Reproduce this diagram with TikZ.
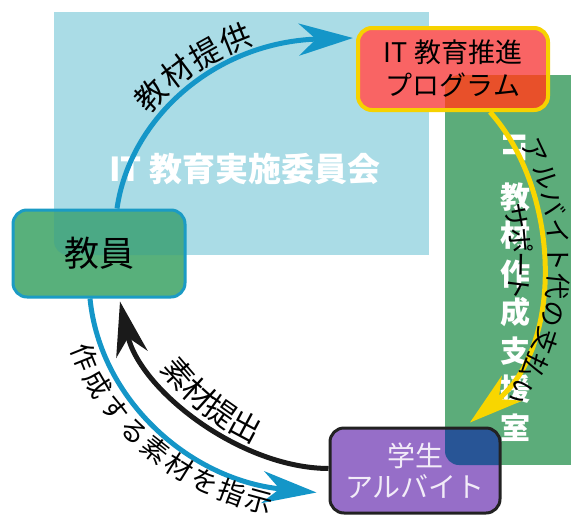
\documentclass[tikz,border=0pt]{standalone}
\usepackage{fontspec}
\setmainfont{Noto Sans CJK JP}
\usetikzlibrary{arrows.meta}
\usetikzlibrary{decorations.text}

\definecolor{panelblue}{HTML}{AADCE6}
\definecolor{panelgreen}{HTML}{5CAC7A}
\definecolor{kyoinfill}{HTML}{58B07B}
\definecolor{kyoinshade}{HTML}{4BA985}
\definecolor{kyoinedge}{HTML}{1B9BC4}
\definecolor{progfill}{HTML}{F96464}
\definecolor{progshade}{HTML}{E8502A}
\definecolor{progedge}{HTML}{F6D200}
\definecolor{studfill}{HTML}{966EC8}
\definecolor{studshade}{HTML}{285596}
\definecolor{studedge}{HTML}{222222}
\definecolor{studtext}{HTML}{F2ECF8}
\definecolor{arrowblue}{HTML}{1496C8}
\definecolor{arrowyellow}{HTML}{F8D600}
\definecolor{arrowblack}{HTML}{1A1A1A}

\tikzset{
   panel/.style={inner sep=0pt, outer sep=0pt},
   paneltext/.style={text=white, inner sep=0pt, font=\bfseries\fontsize{30}{30}\selectfont},
   box/.style={rounded corners=14pt, line width=3pt, inner sep=0pt, align=center},
   flow/.style={line width=5pt, -{Stealth[length=54pt,width=32pt,inset=17pt]}},
   curvetext/.style={decorate, decoration={text along path, text align=center, #1}}
}

\begin{document}
\begin{tikzpicture}[x=1pt,y=-1pt]
   \useasboundingbox (0,0) rectangle (571,523);
   \fill[white] (0,0) rectangle (571,523);

   \node[panel, fill=panelblue, minimum width=375pt, minimum height=243pt] (committee) at (241.5,133.5) {};
   \node[panel, fill=panelgreen, minimum width=126pt, minimum height=390pt] (support) at (508,270) {};

   \node[paneltext, font=\bfseries\fontsize{33}{33}\selectfont] (committeename) at (245,169) {IT 教育実施委員会};
   \node[paneltext, rotate=-90] (supportIT) at (515,147) {IT};
   \foreach \ch [count=\i] in {教,材,作,成,支,援,室}
   \node[paneltext] (support\i) at (515,158.5+38.5*\i) {\ch};

   \node[
      box,
      draw=kyoinedge,
      fill=kyoinfill,
      minimum width=172pt,
      minimum height=87pt,
      font=\fontsize{35}{35}\selectfont,
      path picture={\fill[kyoinshade] (committee.north west) rectangle (committee.south east);}
   ] (kyoin) at (99,253.5) {教員};

   \node[
      box,
      draw=progedge,
      line width=4pt,
      fill=progfill,
      minimum width=190pt,
      minimum height=82pt,
      font=\fontsize{27}{33}\selectfont,
      path picture={\fill[progshade] (support.north west) rectangle (support.south east);}
   ] (prog) at (453,69) {IT 教育推進\\プログラム};

   \node[
      box,
      draw=studedge,
      fill=studfill,
      text=studtext,
      minimum width=170pt,
      minimum height=85pt,
      font=\fontsize{28}{31}\selectfont,
      path picture={\fill[studshade] (support.north west) rectangle (support.south east);}
   ] (stud) at (415,470.5) {学生\\アルバイト};

   \coordinate (supplyfrom) at ([xshift=18pt]kyoin.north);
   \coordinate (supplyto) at ([xshift=-3pt,yshift=31pt]prog.west);
   \coordinate (payfrom) at ([xshift=37pt]prog.south);
   \coordinate (payto) at ([xshift=55pt,yshift=4pt]stud.north);
   \coordinate (submitfrom) at ([yshift=2pt]stud.west);
   \coordinate (submitto) at ([xshift=21pt,yshift=-3pt]kyoin.south);
   \coordinate (orderfrom) at ([xshift=-9pt]kyoin.south);
   \coordinate (orderto) at ([xshift=-12pt,yshift=-22pt]stud.west);

   \draw[flow, draw=arrowblue] (supplyfrom) .. controls (130,118) and (215,42) .. (supplyto);
   \draw[flow, draw=arrowyellow] (payfrom) .. controls (560,190) and (565,345) .. (payto);
   \draw[flow, draw=arrowblack] (submitfrom) .. controls (240,468) and (140,390) .. (submitto);
   \draw[flow, draw=arrowblue] (orderfrom) .. controls (100,400) and (190,480) .. (orderto);

   \path[curvetext={raise=10pt, text={|\fontsize{31}{31}\selectfont|教材提供}}]
   (supplyfrom) .. controls (130,118) and (215,42) .. (supplyto);
   \path[curvetext={raise=7pt, text={|\fontsize{26}{26}\selectfont|アルバイト代の支払い}}]
   (payfrom) .. controls (560,190) and (565,345) .. (payto);
   \path[decorate, decoration={text along path, text align={left indent=100pt}, raise=-31pt,
      text={|\fontsize{26}{26}\selectfont|サポート}}]
   (payfrom) .. controls (560,190) and (565,345) .. (payto);
   \path[curvetext={raise=7pt, text={|\fontsize{31}{31}\selectfont|素材提出}}]
   (submitto) .. controls (140,390) and (240,468) .. (submitfrom);
   \path[curvetext={raise=-29pt, text={|\fontsize{27}{27}\selectfont|作成する素材を指示}}]
   (orderfrom) .. controls (100,400) and (190,480) .. (orderto);
\end{tikzpicture}
\end{document}
